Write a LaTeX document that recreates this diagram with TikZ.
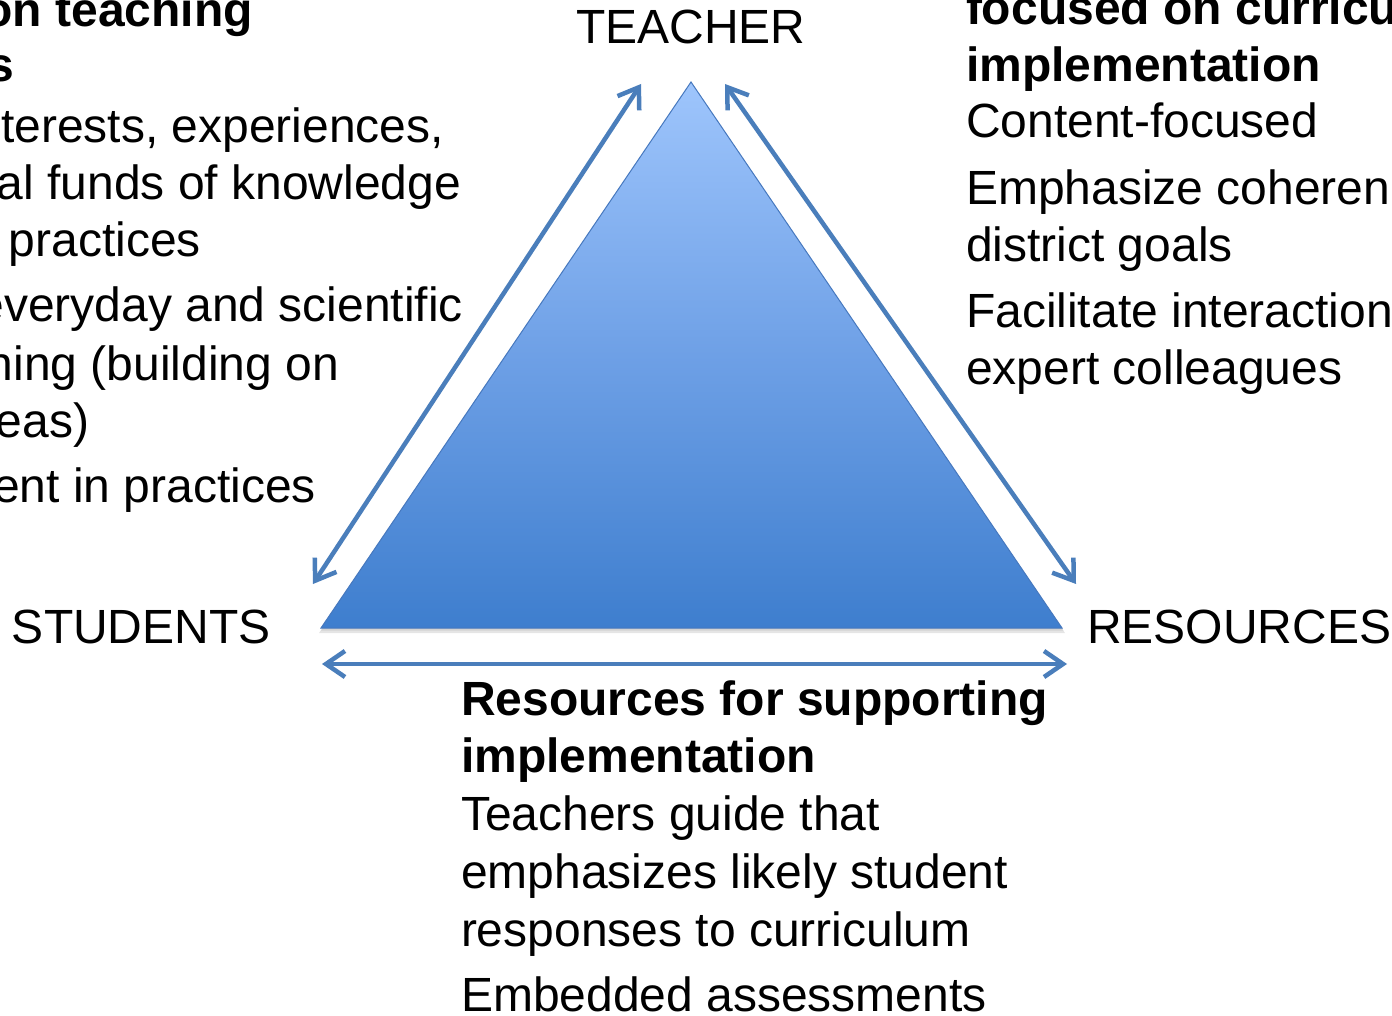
\documentclass[tikz,border=0pt]{standalone}
\usepackage{fontspec}
\setmainfont{Liberation Sans}
\usetikzlibrary{arrows.meta}
\definecolor{arrowblue}{RGB}{74,126,187}
\definecolor{edgeblue}{RGB}{70,120,190}
\definecolor{topblue}{RGB}{158,197,252}
\definecolor{botblue}{RGB}{62,126,206}
\tikzset{
  txt/.style={inner sep=0pt, outer sep=0pt, font=\fontsize{48}{57}\selectfont, anchor=base west},
  txtr/.style={txt, anchor=base east},
  hd/.style={txt, font=\fontsize{48}{57}\selectfont\bfseries},
  hdr/.style={hd, anchor=base east},
  link/.style={draw=arrowblue, line width=4.5pt, {Straight Barb[length=19pt,width=26pt]}-{Straight Barb[length=19pt,width=26pt]}}
}
\begin{document}
\begin{tikzpicture}[x=1pt,y=-1pt]
\path[use as bounding box, clip] (0,0) rectangle (1392,1016);
\fill[white] (0,0) rectangle (1392,1016);
% triangle corners
\coordinate (apex) at (691,82);
\coordinate (bl) at (321,628);
\coordinate (br) at (1062,628);
% shadow
\fill[black, opacity=0.10] ([yshift=-4pt]apex) -- ([xshift=-2pt,yshift=-5pt]bl) -- ([xshift=3pt,yshift=-5pt]br) -- cycle;
\fill[black, opacity=0.08] ([yshift=-2pt]apex) -- ([yshift=-2.5pt]bl) -- ([xshift=1.5pt,yshift=-2.5pt]br) -- cycle;
\shade[top color=topblue, bottom color=botblue, middle color={rgb,255:red,110;green,160;blue,230}] (apex) -- (bl) -- (br) -- cycle;
\draw[edgeblue, line width=1pt, line join=miter] (apex) -- (bl) -- (br) -- cycle;
% arrow ends
\coordinate (tl) at (641,84);
\coordinate (sl) at (313,584);
\coordinate (tr) at (725,84);
\coordinate (rr) at (1076,584);
\coordinate (bs) at (322,664);
\coordinate (be) at (1067,664);
\draw[link] (tl) -- (sl);
\draw[link] (tr) -- (rr);
\draw[link] (bs) -- (be);
% corner labels
\node[txt] (teacher) at (576,44) {TEACHER};
\node[txt] (students) at (12,643) {STUDENTS};
\node[txt] (resources) at (1087,643) {RESOURCES};
% left text (cut at the left edge)
\node[hdr] (l1) at (253,27) {on teaching};
\node[hdr] (l2) at (14,82) {s};
\node[txtr] (l3) at (444,143) {nterests, experiences,};
\node[txtr] (l4) at (461,200) {al funds of knowledge};
\node[txtr] (l5) at (201,257) {practices};
\node[txtr] (l6) at (463,322) {everyday and scientific};
\node[txtr] (l7) at (339,380) {ning (building on};
\node[txtr] (l8) at (89,437) {eas)};
\node[txtr] (l9) at (316,502) {ent in practices};
% right text (cut at the right edge)
\node[hd] (r1) at (966,25) {focused on curricu};
\node[hd] (r2) at (966,82) {implementation};
\node[txt] (r3) at (966,138) {Content-focused};
\node[txt] (r4) at (966,205) {Emphasize coherenc};
\node[txt] (r5) at (966,262) {district goals};
\node[txt] (r6) at (966,327) {Facilitate interaction};
\node[txt] (r7) at (966,384) {expert colleagues};
% bottom text
\node[hd] (b1) at (461,715) {Resources for supporting};
\node[hd] (b2) at (461,772) {implementation};
\node[txt] (b3) at (461,830) {Teachers guide that};
\node[txt] (b4) at (461,888) {emphasizes likely student};
\node[txt] (b5) at (461,946) {responses to curriculum};
\node[txt] (b6) at (461,1011) {Embedded assessments};
\end{tikzpicture}
\end{document}
